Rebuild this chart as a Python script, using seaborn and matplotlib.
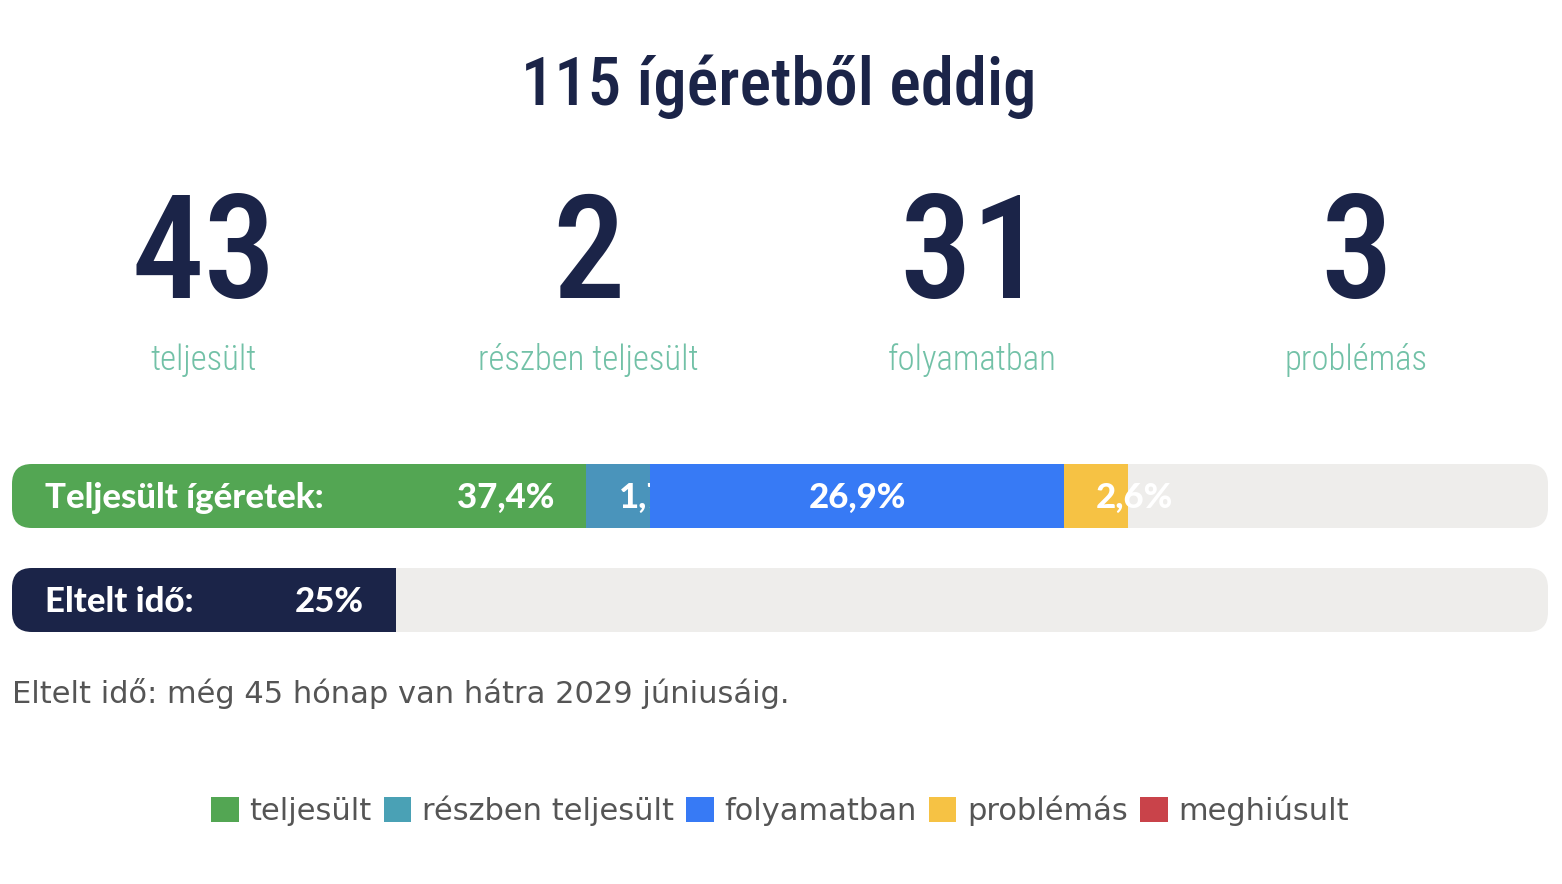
import matplotlib
matplotlib.use("Agg")
import matplotlib.pyplot as plt
import matplotlib.font_manager as fm
from matplotlib.patches import FancyBboxPatch, Patch
import seaborn as sns

# ---------------- data ----------------
total_promises = 115
stat_values = [43, 2, 31, 3]
stat_labels = ["teljesült", "részben teljesült", "folyamatban", "problémás"]
bar_pcts = [37.4, 1.7, 26.9, 2.6]
bar_pct_labels = ["37,4%", "1,7%", "26,9%", "2,6%"]
elapsed_pct = 25
elapsed_label = "25%"
legend_labels = ["teljesült", "részben teljesült", "folyamatban", "problémás", "meghiúsult"]
title_text = f"{total_promises} ígéretből eddig"
footnote_text = "Eltelt idő: még 45 hónap van hátra 2029 júniusáig."
bar1_title = "Teljesült ígéretek:"
bar2_title = "Eltelt idő:"

# ---------------- style ----------------
NAVY = "#1b2448"
SEG_COLORS = ["#53a653", "#4a94bb", "#377af5", "#f6c244"]
LEG_COLORS = ["#53a653", "#4aa1b5", "#377af5", "#f6c244", "#c9434a"]
TRACK = "#eeedeb"
LABEL_TEAL = "#72c1a7"
GREY = "#555555"

sns.set_theme(style="white")

avail = {f.name for f in fm.fontManager.ttflist}
def pick(*names):
    for n in names:
        if n in avail:
            return n
    return "DejaVu Sans"

COND = pick("Liberation Sans Narrow", "Roboto Condensed", "Open Sans Condensed", "Noto Sans", "DejaVu Sans")
HEAVY = pick("Lato", "Liberation Sans", "DejaVu Sans")
BODY = "DejaVu Sans"
plt.rcParams["font.family"] = [BODY]

W, H = 1562, 884
DPI = 100
fig = plt.figure(figsize=(W / DPI, H / DPI), dpi=DPI)
fig.patch.set_facecolor("white")

def fx(x):
    return x / W
def fy(y):
    return 1 - y / H

# title
fig.text(fx(779), fy(105), title_text, ha="center", va="baseline",
         fontsize=48, fontweight="medium", color=NAVY, family=[COND, "DejaVu Sans"])

# stats
track_left, track_w = 12, 1536
col_w = track_w / len(stat_values)
for i, (v, lab) in enumerate(zip(stat_values, stat_labels)):
    cx = track_left + (i + 0.5) * col_w
    fig.text(fx(cx), fy(298), str(v), ha="center", va="baseline",
             fontsize=104, fontweight="medium", color=NAVY, family=[COND, "DejaVu Sans"])
    fig.text(fx(cx), fy(370), lab, ha="center", va="baseline",
             fontsize=25, fontweight="light", color=LABEL_TEAL, family=[COND, "DejaVu Sans"])

# bars axes: x in percent, y rows 0 and 1
px_per_unit_x = track_w / 100.0
row_px = 104.0
bar_h_px = 64.0
ax_top_px, ax_bot_px = 464, 632
ax = fig.add_axes([fx(track_left), fy(ax_bot_px), track_w / W, (ax_bot_px - ax_top_px) / H])
ax.set_xlim(0, 100)
half = (bar_h_px / 2) / row_px
ax.set_ylim(1 + half, -half)
ax.axis("off")
bar_h = bar_h_px / row_px
pad = 32 / px_per_unit_x
radius = 20 / px_per_unit_x
aspect = px_per_unit_x / row_px
cap_off = 12 / row_px

renderer = fig.canvas.get_renderer()

def make_track(row):
    t = FancyBboxPatch((0, row - bar_h / 2), 100, bar_h,
                       boxstyle=f"round,pad=0,rounding_size={radius}",
                       mutation_aspect=aspect, facecolor=TRACK, edgecolor="none", zorder=1)
    ax.add_patch(t)
    return t

txt_kw = dict(color="white", fontsize=25, fontweight=900, family=[HEAVY, "DejaVu Sans"])

# row 0: promises
trk0 = make_track(0)
left = 0.0
min_w = 2 * pad
for i, (p, lab, c) in enumerate(zip(bar_pcts, bar_pct_labels, SEG_COLORS)):
    w = max(p, min_w)
    bars = ax.barh([0], [w], left=[left], height=bar_h, color=c, edgecolor="none",
                   zorder=2 + 2 * i, align="center")
    for b in bars:
        b.set_clip_path(trk0)
    if i == 0:
        ax.text(left + 33 / px_per_unit_x, cap_off, bar1_title, ha="left", va="baseline",
                zorder=3 + 2 * i, **txt_kw)
        ax.text(left + w - pad, cap_off, lab, ha="right", va="baseline",
                zorder=3 + 2 * i, **txt_kw)
    else:
        t = ax.text(left + pad, cap_off, lab, ha="left", va="baseline",
                    zorder=3 + 2 * i, **txt_kw)
        tw = t.get_window_extent(renderer).width / px_per_unit_x
        extra = max(0.0, (w - 2 * pad - tw) / 2)
        t.set_x(left + pad + extra)
    left += w

# row 1: elapsed time
trk1 = make_track(1)
bars = ax.barh([1], [elapsed_pct], left=[0], height=bar_h, color=NAVY, edgecolor="none",
               zorder=2, align="center")
for b in bars:
    b.set_clip_path(trk1)
ax.text(33 / px_per_unit_x, 1 + cap_off, bar2_title, ha="left", va="baseline", zorder=3, **txt_kw)
ax.text(elapsed_pct - pad, 1 + cap_off, elapsed_label, ha="right", va="baseline", zorder=3, **txt_kw)

# footnote
fig.text(fx(12), fy(703), footnote_text, ha="left", va="baseline",
         fontsize=22, color=GREY, family=[BODY])

# legend
handles = [Patch(facecolor=c, edgecolor="none") for c in LEG_COLORS]
leg = fig.legend(handles, legend_labels, loc="center", bbox_to_anchor=(fx(780), fy(811)),
                 ncol=5, frameon=False, fontsize=22, handlelength=0.9, handleheight=0.9,
                 handletextpad=0.35, columnspacing=0.4, borderaxespad=0, borderpad=0)
for t in leg.get_texts():
    t.set_color(GREY)
    t.set_family([BODY])

fig.savefig("out.png", dpi=DPI, facecolor="white")
